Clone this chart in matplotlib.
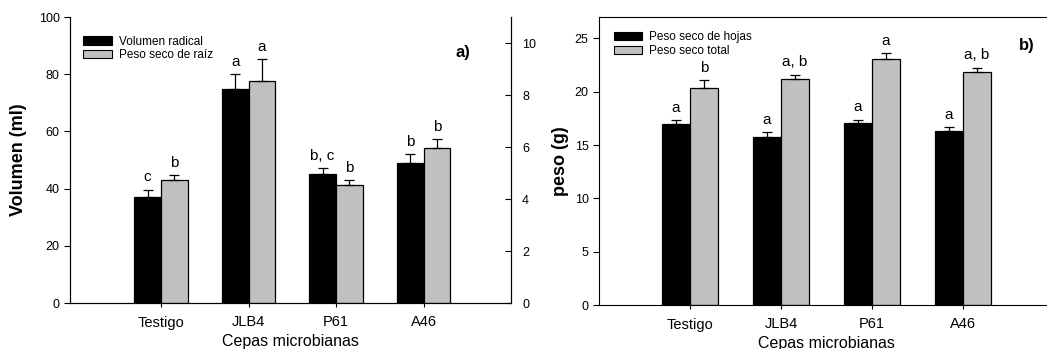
import matplotlib
matplotlib.use("Agg")
import matplotlib.pyplot as plt
import numpy as np

plt.rcParams['font.family'] = ['Liberation Sans', 'DejaVu Sans']

cepas = ["Testigo", "JLB4", "P61", "A46"]

# panel a
vol_radical = [37.0, 75.0, 45.1, 49.1]
vol_radical_err = [2.6, 5.0, 2.0, 3.0]
vol_letras = ["c", "a", "b, c", "b"]
raiz = [4.74, 8.53, 4.54, 5.95]
raiz_err = [0.17, 0.85, 0.19, 0.35]
raiz_letras = ["b", "a", "b", "b"]

# panel b
hojas = [16.95, 15.79, 17.10, 16.29]
hojas_err = [0.35, 0.44, 0.29, 0.38]
hojas_letras = ["a", "a", "a", "a"]
total = [20.36, 21.15, 23.03, 21.80]
total_err = [0.74, 0.43, 0.59, 0.44]
total_letras = ["b", "a, b", "a", "a, b"]

GRIS = "#c0c0c0"
W = 0.305
x = np.arange(1, 5)
fig = plt.figure(figsize=(10.47, 3.49), dpi=100)


def barras(ax, pos, vals, err, color, letras):
    ax.bar(pos, vals, W, color=color, edgecolor="black", linewidth=0.9, zorder=2)
    ax.errorbar(pos, vals, yerr=[np.zeros(len(vals)), err], fmt="none",
                ecolor="black", elinewidth=0.9, capsize=3.5, capthick=0.9, zorder=3)
    for xi, v, e, t in zip(pos, vals, err, letras):
        ax.annotate(t, (xi, v + e), xytext=(0, 6), textcoords="offset points",
                    ha="center", va="baseline", fontsize=11)


def estilo(ax):
    ax.set_xticks(x)
    ax.set_xticklabels(cepas, fontsize=10.5)
    ax.tick_params(axis="x", length=3, width=0.8, pad=6)
    ax.tick_params(axis="y", labelsize=9, length=4, width=0.8)
    ax.set_xlabel("Cepas microbianas", fontsize=11.5, labelpad=3)
    for s in ax.spines.values():
        s.set_linewidth(0.8)


def leyenda(ax, nombres, anchor):
    h1 = plt.Rectangle((0, 0), 1, 1, fc="black", ec="black", lw=0.8)
    h2 = plt.Rectangle((0, 0), 1, 1, fc=GRIS, ec="black", lw=0.8)
    ax.legend([h1, h2], nombres, loc="upper left", bbox_to_anchor=anchor,
              frameon=False, fontsize=8.5, handlelength=2.4, handleheight=0.7,
              handletextpad=0.6, labelspacing=0.15, borderaxespad=0,
              borderpad=0)


# ---- panel a ----
ax = fig.add_axes([70 / 1047, 46 / 349, 441 / 1047, 286 / 349])
ax.set_xlim(-0.04, 5.0)
ax.set_ylim(0, 100)
ax.set_yticks(range(0, 101, 20))
barras(ax, x - W / 2, vol_radical, vol_radical_err, "black", vol_letras)
estilo(ax)
ax.set_ylabel("Volumen (ml)", fontsize=13, fontweight="bold", labelpad=8)
ax.spines["top"].set_visible(False)

ax2 = ax.twinx()
ax2.set_ylim(0, 11)
ax2.set_yticks(range(0, 11, 2))
barras(ax2, x + W / 2, raiz, raiz_err, GRIS, raiz_letras)
ax2.tick_params(axis="y", direction="in", labelsize=9, length=4, width=0.8, pad=8)
ax2.spines["top"].set_visible(False)
ax2.spines["right"].set_linewidth(0.8)

leyenda(ax, ["Volumen radical", "Peso seco de raíz"], (0.03, 0.935))
ax.text(0.875, 0.875, "a)", transform=ax.transAxes, fontsize=12,
        fontweight="bold", ha="left", va="center")

# ---- panel b ----
bx = fig.add_axes([599 / 1047, 44 / 349, 455 / 1047, 288 / 349])
bx.set_xlim(0, 5.0)
bx.set_ylim(0, 27)
bx.set_yticks(range(0, 26, 5))
barras(bx, x - W / 2, hojas, hojas_err, "black", hojas_letras)
barras(bx, x + W / 2, total, total_err, GRIS, total_letras)
estilo(bx)
bx.set_ylabel("peso (g)", fontsize=13, fontweight="bold", labelpad=4)
leyenda(bx, ["Peso seco de hojas", "Peso seco total"], (0.033, 0.95))
bx.text(0.922, 0.9, "b)", transform=bx.transAxes, fontsize=12,
        fontweight="bold", ha="left", va="center")

fig.savefig("out.png", dpi=100)
